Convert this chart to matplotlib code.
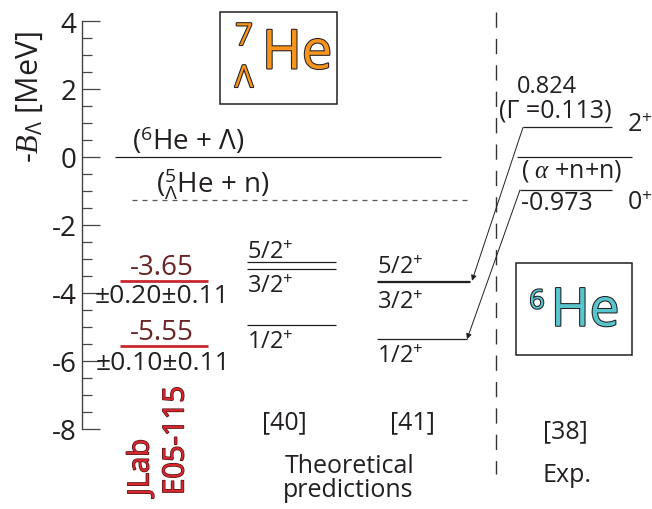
import matplotlib
matplotlib.use('Agg')
import numpy as np
import matplotlib.pyplot as plt
import matplotlib.transforms as mtransforms
import matplotlib.patheffects as pe
from matplotlib.patches import Rectangle

plt.rcParams['font.family'] = ['Open Sans', 'DejaVu Sans']
plt.rcParams['mathtext.fontset'] = 'custom'
plt.rcParams['mathtext.rm'] = 'Open Sans'
plt.rcParams['mathtext.it'] = 'Liberation Serif:italic'
plt.rcParams['axes.unicode_minus'] = False

INK = '#231f20'

# thresholds (MeV)
thr_vals = [0.0, -1.26]
thr_labels = [r'($^{6}$He + $\Lambda$)', r'(${}^{5}_{\Lambda}$He + n)']

# JLab E05-115 measurement
jlab_vals = [-3.65, -5.55]
jlab_errs = ['±0.20±0.11', '±0.10±0.11']

# theoretical predictions
spins = ['5/2', '3/2', '1/2']
th40_vals = [-3.10, -3.29, -4.94]
th41_vals = [-3.64, -3.69, -5.36]

# 6He experimental levels
he6_vals = [0.87, -0.97]
he6_spins = ['2', '0']
he6_thr = 0.0

major_ticks = np.arange(-8, 5, 2)
minor_ticks = np.arange(-8, 4.01, 0.5)

fig = plt.figure(figsize=(6.52, 5.1), dpi=100)
ax = fig.add_axes([0, 0, 1, 1])
ax.set_xlim(0, 652)
ax.set_ylim((158 - 510) / 34, 158 / 34)
ax.patch.set_visible(False)

# pixel transform for layout (x right, y down)
pix = mtransforms.Affine2D().scale(1, -1).translate(0, 510)

for s in ['top', 'right', 'bottom']:
    ax.spines[s].set_visible(False)
ax.spines['left'].set_position(('data', 82))
ax.spines['left'].set_bounds(-8, 4)
ax.spines['left'].set_color('#444444')
ax.spines['left'].set_linewidth(1.0)
ax.set_yticks(major_ticks)
ax.set_yticks(minor_ticks, minor=True)
ax.set_xticks([])
ax.tick_params(axis='y', which='major', direction='in', length=13, width=0.9,
               color='#444444', labelsize=20, labelcolor=INK, pad=4)
ax.tick_params(axis='y', which='minor', direction='in', length=7, width=0.9,
               color='#444444')
ax.text(30, 97, r'-$B_\Lambda$ [MeV]', transform=pix, rotation=90,
        ha='center', va='center', fontsize=22, color=INK)

def lab(txt, x, y, dy, size=17, ha='left', color=INK):
    ax.annotate(txt, (x, y), xytext=(0, dy * 0.72), textcoords='offset points',
                ha=ha, va='baseline', fontsize=size, color=color)

# thresholds
ax.hlines(thr_vals[0], 115, 441, color=INK, lw=0.9)
ax.hlines(thr_vals[1], 132, 470, color='#555555', lw=0.9, linestyles=(0, (4, 4)))
lab(thr_labels[0], 188, thr_vals[0], 8, size=20, ha='center')
lab(thr_labels[1], 213, thr_vals[1], 7, size=20, ha='center')

# JLab
ax.hlines(jlab_vals, 120, 208, color='#c8282e', lw=2)
for v in jlab_vals:
    lab(f'{v:.2f}', 162, v, 7, size=20, ha='center', color='#6b2426')
lab(jlab_errs[0], 162, jlab_vals[0], -21, size=19, ha='center')
lab(jlab_errs[1], 163, jlab_vals[1], -23, size=19, ha='center')
stroke = [pe.withStroke(linewidth=1.0, foreground='#4a1414')]
ax.text(141, 497, 'JLab', transform=pix, rotation=90, ha='center', va='bottom',
        fontsize=21, color='#d7262e', path_effects=stroke)
ax.text(176, 496, 'E05-115', transform=pix, rotation=90, ha='center', va='bottom',
        fontsize=21, color='#d7262e', path_effects=stroke)

# [40]
ax.hlines(th40_vals, 247, 336, color=INK, lw=0.9)
lab(spins[0] + r'$^{+}$', 247, th40_vals[0], 4)
lab(spins[1] + r'$^{+}$', 247, th40_vals[1], -23)
lab(spins[2] + r'$^{+}$', 247, th40_vals[2], -23)

# [41]
ax.hlines(th41_vals[:2], 377, 470, color=INK, lw=0.9)
ax.hlines(th41_vals[2], 377, 467, color=INK, lw=0.9)
lab(spins[0] + r'$^{+}$', 377, th41_vals[0], 8)
lab(spins[1] + r'$^{+}$', 377, th41_vals[1], -26)
lab(spins[2] + r'$^{+}$', 377, th41_vals[2], -23)

# 6He experiment
ax.hlines(he6_vals[0], 523, 612, color=INK, lw=0.9)
ax.hlines(he6_vals[1], 520, 612, color=INK, lw=0.9)
ax.hlines(he6_thr, 517, 632, color=INK, lw=0.9)
lab('0.824', 547, he6_vals[0], 35, ha='center')
lab('(Γ =0.113)', 555, he6_vals[0], 11, size=18, ha='center')
lab(he6_spins[0] + r'$^{+}$', 627, he6_vals[0], -4, size=18)
lab(r'( $\alpha$ +n+n)', 572, he6_thr, -20, size=18, ha='center')
lab('-0.973', 521, he6_vals[1], -19, size=18)
lab(he6_spins[1] + r'$^{+}$', 627, he6_vals[1], -19, size=18)

arrow = dict(arrowstyle='-|>', lw=0.7, color=INK, mutation_scale=8,
             shrinkA=0, shrinkB=0)
ax.annotate('', xy=(472, th41_vals[0]), xytext=(523, he6_vals[0]), arrowprops=arrow)
ax.annotate('', xy=(467, th41_vals[2]), xytext=(520, he6_vals[1]), arrowprops=arrow)

# separator
ax.plot([496, 496], [13, 475], transform=pix, color='#333333', lw=1,
        dashes=(11, 8))

# nucleus boxes
ax.add_patch(Rectangle((220, 13), 117, 92, transform=pix, fill=False,
                       ec=INK, lw=1.1))
outline = [pe.withStroke(linewidth=1.5, foreground=INK)]
ax.text(297, 55, 'He', transform=pix, ha='center', va='center', fontsize=39,
        color='#f7941d', path_effects=outline)
ax.text(244, 38, '7', transform=pix, ha='center', va='center', fontsize=22,
        color='#f7941d', path_effects=outline)
ax.text(244, 80, 'Λ', transform=pix, ha='center', va='center', fontsize=22,
        color='#f7941d', path_effects=outline)

ax.add_patch(Rectangle((516, 264), 116, 92, transform=pix, fill=False,
                       ec=INK, lw=1.1))
ax.text(585, 313, 'He', transform=pix, ha='center', va='center', fontsize=38,
        color='#58c4cc', path_effects=outline)
ax.text(537, 303, '6', transform=pix, ha='center', va='center', fontsize=19,
        color='#58c4cc', path_effects=outline)

# captions
ax.text(284, 429, '[40]', transform=pix, ha='center', va='baseline', fontsize=18, color=INK)
ax.text(412, 429, '[41]', transform=pix, ha='center', va='baseline', fontsize=18, color=INK)
ax.text(565, 438, '[38]', transform=pix, ha='center', va='baseline', fontsize=18, color=INK)
ax.text(567, 482, 'Exp.', transform=pix, ha='center', va='baseline', fontsize=18, color=INK)
ax.text(350, 473, 'Theoretical', transform=pix, ha='center', va='baseline', fontsize=18, color=INK)
ax.text(348, 497, 'predictions', transform=pix, ha='center', va='baseline', fontsize=18, color=INK)

fig.savefig('out.png', dpi=100)
